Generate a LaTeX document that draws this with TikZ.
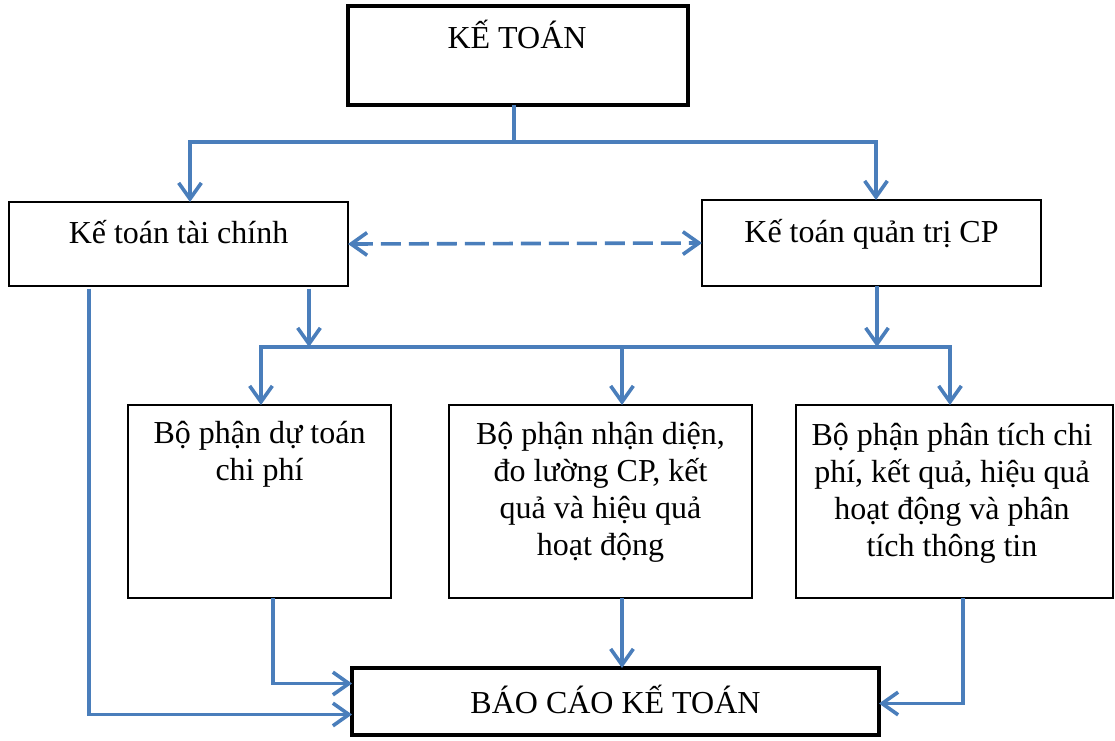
\documentclass[tikz,border=0pt]{standalone}
\usepackage{fontspec}
\setmainfont{Liberation Serif}
\usetikzlibrary{arrows.meta,calc}

\definecolor{flowblue}{HTML}{4A7EBB}

\tikzset{
  unit/.style={x=0.75pt,y=-0.75pt},
  boxthin/.style={draw=black, rectangle, inner sep=0pt, outer sep=0pt,
                  anchor=north west, line width=0.8pt},
  boxthick/.style={boxthin, line width=2.3pt},
  txt/.style={anchor=base, inner sep=0pt, align=center,
              font=\fontsize{24}{27.75}\selectfont},
  tip/.tip={Straight Barb[length=12pt,width=17pt]},
  link/.style={draw=flowblue, line width=2.7pt, line join=miter},
  flow/.style={link, -tip},
  both/.style={link, tip-tip},
  dashlink/.style={both, dash pattern=on 15pt off 6pt}
}

\begin{document}
\begin{tikzpicture}[unit]
  \useasboundingbox (0,0) rectangle (1115,740);

  % boxes
  \node[boxthick, minimum width=340*0.75pt, minimum height=99*0.75pt]  (k)  at (348,6)   {};
  \node[boxthin,  minimum width=339*0.75pt, minimum height=84*0.75pt]  (tc) at (9,202)   {};
  \node[boxthin,  minimum width=339*0.75pt, minimum height=86*0.75pt]  (tq) at (702,200) {};
  \node[boxthin,  minimum width=263*0.75pt, minimum height=193*0.75pt] (b1) at (128,405) {};
  \node[boxthin,  minimum width=303*0.75pt, minimum height=193*0.75pt] (b2) at (449,405) {};
  \node[boxthin,  minimum width=317*0.75pt, minimum height=193*0.75pt] (b3) at (796,405) {};
  \node[boxthick, minimum width=527*0.75pt, minimum height=67*0.75pt]  (r)  at (352,668) {};

  % box texts (base anchor = baseline of the last line)
  \node[txt] (tk)  at (517,48)    {KẾ TOÁN};
  \node[txt] (ttc) at (178.5,243) {Kế toán tài chính};
  \node[txt] (ttq) at (871.5,242) {Kế toán quản trị CP};
  \node[txt] (tb1) at (259.5,480) {Bộ phận dự toán\\chi phí};
  \node[txt] (tb2) at (600.5,555) {Bộ phận nhận diện,\\đo lường CP, kết\\quả và hiệu quả\\hoạt động};
  \node[txt] (tb3) at (952,556)   {Bộ phận phân tích chi\\phí, kết quả, hiệu quả\\hoạt động và phân\\tích thông tin};
  \node[txt] (tr)  at (615.5,713) {BÁO CÁO KẾ TOÁN};

  % routing points
  \coordinate (split) at (514,142);
  \coordinate (xa)    at (190,0);
  \coordinate (xb)    at (876,0);
  \coordinate (xc)    at (309,0);
  \coordinate (xd)    at (877,0);
  \coordinate (busL)  at (261,347);
  \coordinate (busM)  at (622,347);
  \coordinate (busR)  at (950,347);
  \coordinate (xl)    at (89,0);
  \coordinate (x1)    at (273,0);
  \coordinate (x3)    at (963,0);

  % top split
  \draw[link] (split |- k.south) -- (split);
  \draw[flow] (split) -| (tc.north -| xa);
  \draw[flow] (split) -| (tq.north -| xb);

  % relation between the two branches
  \draw[dashlink] (tc.east) -- (tq.west);

  % into the bus
  \draw[flow, shorten <=2pt] (tc.south -| xc) -- (busL -| xc);
  \draw[flow] (tq.south -| xd) -- (busR -| xd);
  \draw[both] (b1.north -| busL) |- (busR) -- (b3.north -| busR);
  \draw[flow] (busM) -- (b2.north -| busM);

  % into the report
  \draw[flow, shorten <=2pt] (tc.south -| xl) |- ($(r.west)+(0,13)$);
  \draw[flow] (b1.south -| x1) |- ($(r.west)+(0,-18)$);
  \draw[flow] (b2.south -| busM) -- (r.north -| busM);
  \draw[flow] (b3.south -| x3) |- ($(r.east)+(0,2)$);
\end{tikzpicture}
\end{document}
